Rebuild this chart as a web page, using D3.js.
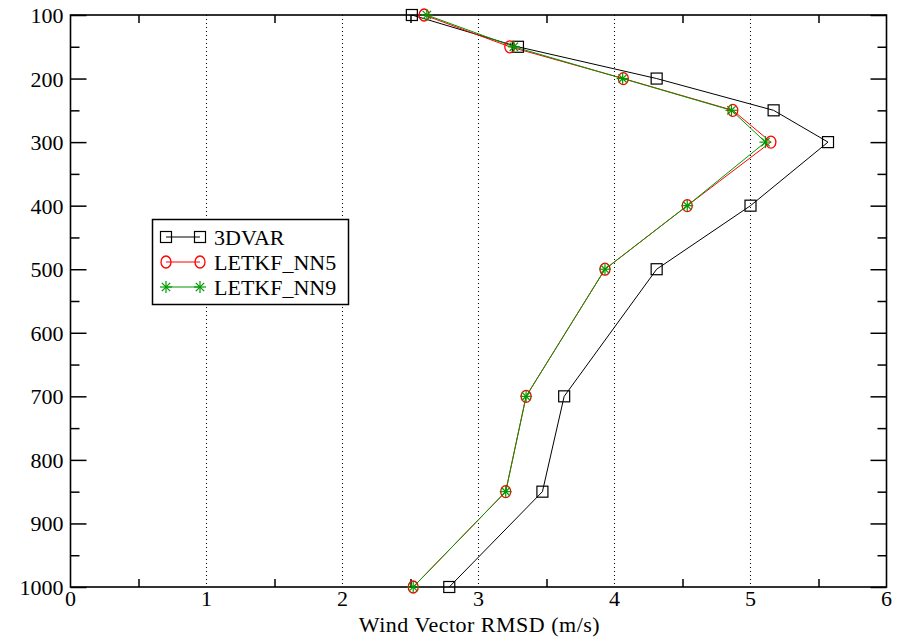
<!DOCTYPE html>
<html><head><meta charset="utf-8">
<script src="https://cdn.jsdelivr.net/npm/d3@7"></script>
<style>body{margin:0;background:#fff}svg{display:block}</style>
</head><body>
<script>
const levels = [100,150,200,250,300,400,500,700,850,1000];
const var3d  = [2.51,3.29,4.31,5.17,5.57,5.00,4.31,3.63,3.47,2.785];
const nn5    = [2.60,3.23,4.065,4.87,5.15,4.535,3.93,3.35,3.20,2.52];
const nn9    = [2.62,3.26,4.06,4.86,5.11,4.535,3.93,3.35,3.20,2.52];
const seriesNames = ["3DVAR","LETKF_NN5","LETKF_NN9"];
const xTicks = [0,1,2,3,4,5,6];
const yTicks = [100,200,300,400,500,600,700,800,900,1000];
const xLabel = "Wind Vector RMSD (m/s)";

const W=902,H=643;
const L=70.5,R=886.5,T=15,B=587;
const FONT="'Liberation Serif','Times New Roman',serif";
const svg=d3.select("body").append("svg").attr("width",W).attr("height",H)
  .attr("font-family",FONT);
const x=d3.scaleLinear().domain([0,6]).range([L,R]);
const y=d3.scaleLinear().domain([100,1000]).range([T,B]);

// gridlines
svg.append("g").selectAll("line").data([1,2,3,4,5]).join("line")
  .attr("x1",d=>x(d)).attr("x2",d=>x(d)).attr("y1",T).attr("y2",B)
  .attr("stroke","#000").attr("stroke-width",1).attr("stroke-dasharray","1,3");

// axes with inward ticks
const gl=svg.append("g").attr("transform",`translate(${L},0)`);
gl.call(d3.axisRight(y).tickValues(yTicks).tickSize(16).tickFormat(""));
gl.append("g").call(d3.axisRight(y).tickValues(d3.range(150,1000,100)).tickSize(9).tickFormat(""));
const grt=svg.append("g").attr("transform",`translate(${R},0)`);
grt.call(d3.axisLeft(y).tickValues(yTicks).tickSize(16).tickFormat(""));
grt.append("g").call(d3.axisLeft(y).tickValues(d3.range(150,1000,100)).tickSize(9).tickFormat(""));
const minorX=[0.5,1.5,2.5,3.5,4.5,5.5];
svg.append("g").attr("transform",`translate(0,${B})`).call(d3.axisTop(x).tickValues(minorX).tickSize(8).tickFormat(""));
svg.append("g").attr("transform",`translate(0,${T})`).call(d3.axisBottom(x).tickValues(minorX).tickSize(8).tickFormat(""));
svg.selectAll(".domain").remove();
svg.selectAll(".tick line").attr("stroke","#000").attr("stroke-width",1.5);

// frame
svg.append("rect").attr("x",L).attr("y",T).attr("width",R-L).attr("height",B-T)
  .attr("fill","none").attr("stroke","#000").attr("stroke-width",1.6);

// tick labels
svg.append("g").selectAll("text").data(yTicks).join("text")
  .attr("x",L-7).attr("y",d=>y(d)+8).attr("text-anchor","end")
  .attr("font-size",22).attr("fill","#000").text(d=>d);
svg.append("g").selectAll("text").data(xTicks).join("text")
  .attr("x",d=>x(d)).attr("y",B+18.5).attr("text-anchor","middle")
  .attr("font-size",22).attr("fill","#000").text(d=>d);
svg.append("text").attr("x",(L+R)/2+1).attr("y",632).attr("text-anchor","middle")
  .attr("font-size",22).attr("letter-spacing",0.5).attr("fill","#000").text(xLabel);

const colors=["#000","#ff0000","#009900"];
const data=[var3d,nn5,nn9];
const line=d3.line().x(d=>x(d[0])).y(d=>y(d[1]));

function marker(g,type,cx,cy,c){
  if(type===0){
    g.append("rect").attr("x",cx-5.5).attr("y",cy-5.5).attr("width",11).attr("height",11)
      .attr("fill","none").attr("stroke",c).attr("stroke-width",1.2);
  } else if(type===1){
    g.append("ellipse").attr("cx",cx).attr("cy",cy).attr("rx",5).attr("ry",6)
      .attr("fill","none").attr("stroke",c).attr("stroke-width",1.3);
  } else {
    const r=6;
    [[0,-r,0,r],[-r,0,r,0],[-r*0.7,-r*0.7,r*0.7,r*0.7],[-r*0.7,r*0.7,r*0.7,-r*0.7]].forEach(s=>{
      g.append("line").attr("x1",cx+s[0]).attr("y1",cy+s[1]).attr("x2",cx+s[2]).attr("y2",cy+s[3])
        .attr("stroke",c).attr("stroke-width",1.2);
    });
  }
}

data.forEach((vals,i)=>{
  const pts=vals.map((v,j)=>[v,levels[j]]);
  svg.append("path").datum(pts).attr("d",line).attr("fill","none")
    .attr("stroke",colors[i]).attr("stroke-width",1);
});
data.forEach((vals,i)=>{
  const g=svg.append("g");
  vals.forEach((v,j)=>marker(g,i,x(v),y(levels[j]),colors[i]));
});

// legend
const lg=svg.append("g");
lg.append("rect").attr("x",152.5).attr("y",219.5).attr("width",196).attr("height",85)
  .attr("fill","#fff").attr("stroke","#000").attr("stroke-width",1.5);
const ly=[237,262,287];
seriesNames.forEach((n,i)=>{
  lg.append("line").attr("x1",166).attr("x2",200).attr("y1",ly[i]).attr("y2",ly[i])
    .attr("stroke",colors[i]).attr("stroke-width",1);
  marker(lg,i,166,ly[i],colors[i]);
  marker(lg,i,200,ly[i],colors[i]);
  lg.append("text").attr("x",214).attr("y",ly[i]+7.5).attr("font-size",22).attr("fill","#000").text(n);
});
</script>
</body></html>
